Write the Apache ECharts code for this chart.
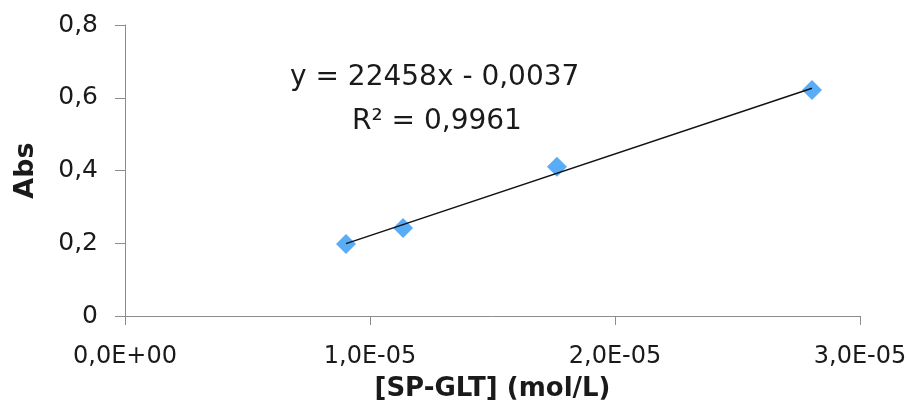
<!DOCTYPE html>
<html>
<head>
<meta charset="utf-8">
<style>
  html, body { margin: 0; padding: 0; background: #ffffff; }
  #chart { width: 909px; height: 403px; }
</style>
<script src="https://cdn.jsdelivr.net/npm/echarts@6/dist/echarts.min.js"></script>
</head>
<body>
<div id="chart"></div>
<script>
// Measured data points: concentration (mol/L) and absorbance
var concentrations = [0.902e-5, 1.135e-5, 1.763e-5, 2.804e-5];
var absorbances = [0.198, 0.242, 0.410, 0.621];

// Linear trendline endpoints
var trendX = [0.902e-5, 2.804e-5];
var trendY = [0.199, 0.626];

// Tick labels
var xTickLabels = ['0,0E+00', '1,0E-05', '2,0E-05', '3,0E-05'];
var yTickLabels = ['0', '0,2', '0,4', '0,6', '0,8'];

var equationText = 'y = 22458x - 0,0037';
var r2Text = 'R\u00b2 = 0,9961';
var xAxisTitle = '[SP-GLT] (mol/L)';
var yAxisTitle = 'Abs';

var scatterData = concentrations.map(function (x, i) { return [x, absorbances[i]]; });
var trendData = trendX.map(function (x, i) { return [x, trendY[i]]; });

var FONT = 'DejaVu Sans';
var TEXT = '#1a1a1a';
var AXIS = '#8c8c8c';

var chart = echarts.init(document.getElementById('chart'), null, { renderer: 'canvas' });
chart.setOption({
  animation: false,
  backgroundColor: '#ffffff',
  grid: { left: 125, right: 49, top: 25, bottom: 87, containLabel: false, outerBoundsMode: 'none' },
  xAxis: {
    type: 'value',
    min: 0, max: 3e-5, interval: 1e-5,
    name: xAxisTitle,
    nameLocation: 'middle',
    nameGap: 60,
    nameTextStyle: { fontFamily: FONT, fontSize: 26, fontWeight: 'bold', color: TEXT },
    axisLine: { show: true, lineStyle: { color: AXIS, width: 1 } },
    axisTick: { show: true, inside: false, length: 9, lineStyle: { color: AXIS } },
    splitLine: { show: false },
    axisLabel: {
      margin: 29,
      fontFamily: FONT, fontSize: 24, color: TEXT,
      formatter: function (v) { return xTickLabels[Math.round(v / 1e-5)]; }
    }
  },
  yAxis: {
    type: 'value',
    min: 0, max: 0.8, interval: 0.2,
    name: yAxisTitle,
    nameLocation: 'middle',
    nameGap: 86,
    nameRotate: 90,
    nameTextStyle: { fontFamily: FONT, fontSize: 27, fontWeight: 'bold', color: TEXT },
    axisLine: { show: true, lineStyle: { color: AXIS, width: 1 } },
    axisTick: { show: true, inside: false, length: 10, lineStyle: { color: AXIS } },
    splitLine: { show: false },
    axisLabel: {
      margin: 27,
      fontFamily: FONT, fontSize: 25, color: TEXT,
      formatter: function (v) { return yTickLabels[Math.round(v / 0.2)]; }
    }
  },
  graphic: [
    {
      type: 'text', left: 290, top: 64,
      style: { text: equationText, font: '28px "' + FONT + '"', fill: TEXT }
    },
    {
      type: 'text', left: 352, top: 108,
      style: { text: r2Text, font: '28px "' + FONT + '"', fill: TEXT }
    }
  ],
  series: [
    {
      type: 'line',
      data: trendData,
      symbol: 'none',
      lineStyle: { color: '#111111', width: 1.5 },
      z: 3
    },
    {
      type: 'scatter',
      data: scatterData,
      symbol: 'diamond',
      symbolSize: 20,
      itemStyle: { color: '#59adf7', opacity: 1 },
      z: 2
    }
  ]
});
</script>
</body>
</html>
